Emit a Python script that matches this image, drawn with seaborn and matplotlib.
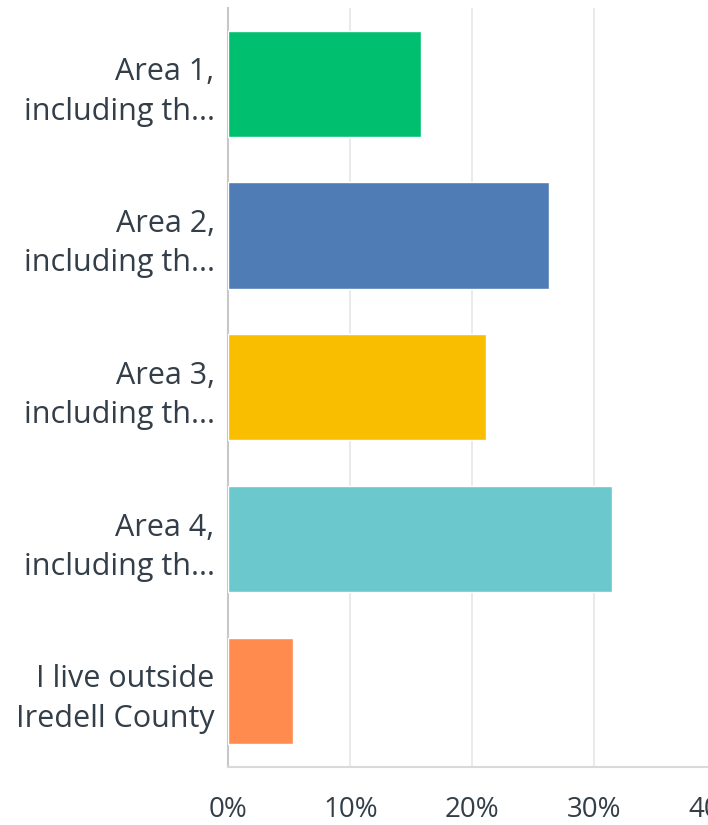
import pandas as pd
import seaborn as sns
import matplotlib.pyplot as plt
from matplotlib.ticker import PercentFormatter

# survey answers (share of respondents, %)
labels = ['Area 1,\nincluding th...', 'Area 2,\nincluding th...', 'Area 3,\nincluding th...',
          'Area 4,\nincluding th...', 'I live outside\nIredell County']
shares = [15.8, 26.3, 21.1, 31.5, 5.3]
colors = ['#00bf6f', '#507cb6', '#f9be00', '#6bc8cd', '#ff8b4f']
ticks = [0, 10, 20, 30, 40]

df = pd.DataFrame({'label': labels, 'share': shares})

sns.set_style('white')
plt.rcParams['font.family'] = ['Open Sans', 'DejaVu Sans']
text_color = '#333e48'

fig = plt.figure(figsize=(7.08, 8.25), dpi=100)
ax = fig.add_axes([0.3227, 0.0707, 0.6886, 0.9196])

sns.barplot(data=df, x='share', y='label', hue='label', palette=colors,
            orient='h', width=0.7, saturation=1, legend=False, ax=ax, zorder=3)

ax.set_xlim(0, 40)
ax.set_xticks(ticks)
ax.xaxis.set_major_formatter(PercentFormatter(decimals=0))
ax.grid(axis='x', color='#e6e6e6', linewidth=1.2, zorder=0)
ax.set_xlabel('')
ax.set_ylabel('')

for side in ['top', 'right']:
    ax.spines[side].set_visible(False)
ax.spines['left'].set_color('#c8c8c8')
ax.spines['bottom'].set_color('#d9d9d9')
ax.spines['left'].set_linewidth(1.5)
ax.spines['bottom'].set_linewidth(1.5)

ax.tick_params(axis='x', length=0, pad=21, labelsize=20, labelcolor=text_color)
ax.tick_params(axis='y', length=0, pad=10, labelsize=22, labelcolor=text_color)
for t in ax.get_yticklabels():
    t.set_horizontalalignment('right')
    t.set_multialignment('right')
    t.set_linespacing(1.4)

fig.savefig('out.png', dpi=100)
